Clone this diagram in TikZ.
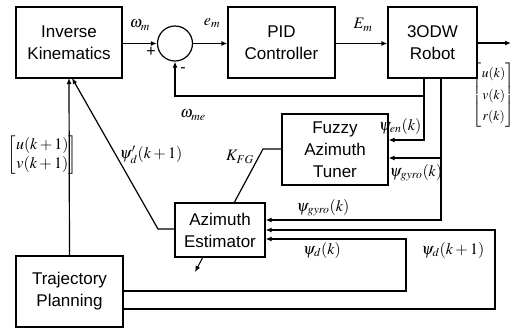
\documentclass[tikz,border=0pt]{standalone}
\usepackage{amsmath}
\usepackage{mathptmx}
\usepackage{fontspec}
\setmainfont{Liberation Sans}
\usetikzlibrary{arrows.meta,calc}
\begin{document}
\begin{tikzpicture}[x=1pt,y=-1pt,line width=1.2pt,
  blk/.style={draw,rectangle,inner sep=0pt,align=center,font=\fontsize{17}{22}\selectfont},
  sumc/.style={draw,circle,minimum size=35pt,inner sep=0pt},
  lbl/.style={inner sep=0pt,font=\fontsize{16}{19}\selectfont},
  mat/.style={inner sep=0pt,font=\fontsize{16}{19}\selectfont},
  arr/.style={-{Latex[length=6pt,width=5pt]}}]
\useasboundingbox (0,0) rectangle (516,330);
\node[blk,minimum width=106pt,minimum height=71pt] (ik) at (69,42.5) {Inverse\\Kinematics};
\node[blk,minimum width=107pt,minimum height=71pt] (pid) at (281.5,42.5) {PID\\Controller};
\node[blk,minimum width=89pt,minimum height=71pt] (rob) at (432.5,42.5) {3ODW\\Robot};
\node[blk,minimum width=106pt,minimum height=71pt] (fz) at (335,149.5) {Fuzzy\\Azimuth\\Tuner};
\node[blk,minimum width=90pt,minimum height=54pt] (est) at (220,230) {Azimuth\\Estimator};
\node[blk,minimum width=107pt,minimum height=71pt] (tp) at (69.5,291.5) {Trajectory\\Planning};
\node[sumc] (sum) at (175,43.5) {};
\coordinate (out) at (511,43);
% forward path
\draw[arr] (ik.east |- sum) -- (sum.west);
\draw[arr] (sum.east) -- (pid.west |- sum);
\draw[arr] (pid.east |- sum) -- (rob.west |- sum);
\draw[arr] (rob.east |- out) -- (out);
% feedback omega_me and psi_en
\draw[arr] (424,78) -- (424,140) -- (fz.east |- 0,140);
\draw[arr] (424,96) -- (sum.south |- 0,96) -- (sum.south);
% psi_gyro
\draw[arr] (441,78) -- (441,220) -- (est.east |- 0,220);
\draw[arr] (441,158) -- (fz.east |- 0,158);
% psi_d(k+1) and psi_d(k)
\draw[arr] (tp.east |- 0,309) -- (495,309) -- (495,230) -- (est.east |- 0,230);
\draw[arr] (tp.east |- 0,291) -- (406,291) -- (406,239) -- (est.east |- 0,239);
% trajectory to IK
\draw[arr] (tp.north) -- (69,78);
% estimator to IK
\draw[arr] (est.west |- 0,229) -- (158,229) -- (72,78);
% K_FG
\draw (fz.west |- 0,149) -- (263,149) -- (234,203);
% small arrow
\coordinate (sa) at (195,272);
\draw[arr,line width=1pt] (203,257) -- (sa);
% labels
\node[lbl] (l1) at (140,25) {$\omega_m$};
\node[lbl] (l2) at (151,52) {+};
\node[lbl] (l3) at (183,70) {-};
\node[lbl] (l4) at (212,23) {$e_m$};
\node[lbl] (l5) at (363,25) {$E_m$};
\node[lbl] (l6) at (193,115) {$\omega_{me}$};
\node[lbl,anchor=east] (l7) at (422,126) {$\psi_{en}(k)$};
\node[lbl,anchor=west] (l8) at (389,173) {$\psi_{gyro}(k)$};
\node[lbl] (l9) at (323,208) {$\psi_{gyro}(k)$};
\node[lbl] (l10) at (240,157) {$K_{FG}$};
\node[lbl] (l11) at (151,155) {$\psi'_d(k+1)$};
\node[lbl] (l12) at (322,250) {$\psi_d(k)$};
\node[lbl] (l13) at (453,250) {$\psi_d(k+1)$};
\node[mat,anchor=west] (m1) at (7,155) {$\setlength\arraycolsep{1pt}\begin{bmatrix}u(k+1)\\ v(k+1)\end{bmatrix}$};
\node[mat,anchor=east,font=\fontsize{13.5}{16}\selectfont] (m2) at (515,95) {$\setlength\arraycolsep{0pt}\renewcommand\arraystretch{1.35}\begin{bmatrix}u(k)\\ v(k)\\ r(k)\end{bmatrix}$};
\end{tikzpicture}
\end{document}
